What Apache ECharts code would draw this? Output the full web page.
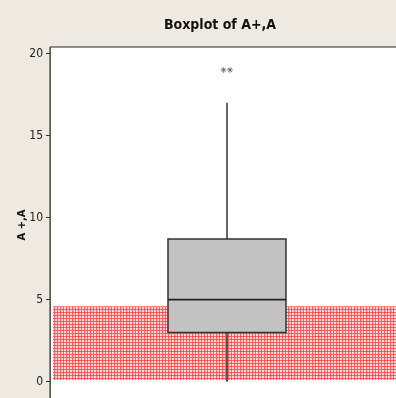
<!DOCTYPE html>
<html>
<head>
<meta charset="utf-8">
<script src="https://cdn.jsdelivr.net/npm/echarts@6/dist/echarts.min.js"></script>
<style>
  html, body { margin: 0; padding: 0; background: #eeeae1; }
  #chart { width: 396px; height: 398px; }
</style>
</head>
<body>
<div id="chart"></div>
<script>
// data
const categories = ["A+,A"]
// [min, Q1, median, Q3, max]
const boxStats = [0, 3, 5, 8.7, 17]
const outliers = [19, 19]
const bandRange = [0.1, 4.6]
const yTicks = [0, 5, 10, 15, 20]

// red crosshatch fill for the band
const pat = document.createElement("canvas")
pat.width = 3
pat.height = 3
const pctx = pat.getContext("2d")
pctx.fillStyle = "rgba(255,190,190,0.6)"
pctx.fillRect(0, 0, 3, 3)
pctx.fillStyle = "rgba(255,60,60,0.75)"
pctx.fillRect(0, 0, 3, 1)
pctx.fillRect(0, 0, 1, 3)

const chartDom = document.getElementById("chart")
const myChart = echarts.init(chartDom)

const asterisk =
  "path://M4.4,0h1.2v3.6l2.6,-2.6l0.8,0.8l-2.6,2.6h3.6v1.2h-3.6l2.6,2.6l-0.8,0.8l-2.6,-2.6v3.6h-1.2v-3.6l-2.6,2.6l-0.8,-0.8l2.6,-2.6h-3.6v-1.2h3.6l-2.6,-2.6l0.8,-0.8l2.6,2.6z"

const narrow = "'DejaVu Sans Condensed', 'Liberation Sans', sans-serif"

const option = {
  animation: false,
  backgroundColor: "#eeeae1",
  title: {
    text: "Boxplot of A+,A",
    left: 215,
    textAlign: "center",
    top: 13,
    textStyle: {
      fontFamily: narrow,
      fontWeight: "bold",
      fontSize: 14,
      color: "#111",
    },
  },
  grid: {
    left: 50,
    top: 47,
    width: 354,
    height: 356,
    outerBoundsMode: "none",
    containLabel: false,
    show: true,
    backgroundColor: "#ffffff",
    borderColor: "#222",
    borderWidth: 1,
  },
  xAxis: [
    {
      type: "category",
      data: categories,
      show: false,
    },
    {
      type: "value",
      min: 0,
      max: 1,
      show: false,
    },
  ],
  yAxis: {
    type: "value",
    min: -1.3,
    max: 20.4,
    name: "A +,A",
    nameLocation: "middle",
    nameGap: 23,
    nameMoveOverlap: false,
    nameTextStyle: {
      fontFamily: "DejaVu Sans",
      fontWeight: "bold",
      fontSize: 10,
      color: "#111",
    },
    axisLine: { show: true, lineStyle: { color: "#555", width: 1 } },
    axisTick: {
      show: true,
      length: 4,
      customValues: yTicks,
      lineStyle: { color: "#333" },
    },
    axisLabel: {
      customValues: yTicks,
      margin: 7,
      fontFamily: narrow,
      fontSize: 12,
      color: "#222",
    },
    splitLine: { show: false },
  },
  series: [
    {
      type: "custom",
      xAxisIndex: 0,
      data: [[0].concat(boxStats)],
      encode: { x: 0, y: [1, 2, 3, 4, 5] },
      renderItem: function (params, api) {
        const x = api.value(0)
        const pMin = api.coord([x, api.value(1)])
        const pQ1 = api.coord([x, api.value(2)])
        const pMed = api.coord([x, api.value(3)])
        const pQ3 = api.coord([x, api.value(4)])
        const pMax = api.coord([x, api.value(5)])
        const half = 59
        const cx = pMin[0]
        const stroke = { stroke: "#333", lineWidth: 1.5 }
        return {
          type: "group",
          children: [
            {
              type: "line",
              shape: { x1: cx, y1: pMin[1], x2: cx, y2: pQ1[1] },
              style: stroke,
            },
            {
              type: "line",
              shape: { x1: cx, y1: pQ3[1], x2: cx, y2: pMax[1] },
              style: stroke,
            },
            {
              type: "rect",
              shape: { x: cx - half, y: pQ3[1], width: half * 2, height: pQ1[1] - pQ3[1] },
              style: { fill: "#c2c2c2", stroke: "#333", lineWidth: 1.5 },
            },
            {
              type: "line",
              shape: { x1: cx - half, y1: pMed[1], x2: cx + half, y2: pMed[1] },
              style: { stroke: "#222", lineWidth: 1.8 },
            },
          ],
        }
      },
      z: 2,
    },
    {
      type: "scatter",
      xAxisIndex: 0,
      symbol: asterisk,
      symbolSize: 6,
      itemStyle: { color: "#444" },
      data: outliers.map(function (v, i) {
        return { value: [0, v], symbolOffset: [i === 0 ? -3.5 : 3, 0] }
      }),
      z: 3,
    },
    {
      type: "line",
      xAxisIndex: 1,
      data: [],
      markArea: {
        silent: true,
        itemStyle: {
          color: { image: pat, repeat: "repeat" },
        },
        data: [
          [
            { xAxis: 0.008, yAxis: bandRange[1] },
            { xAxis: 1, yAxis: bandRange[0] },
          ],
        ],
      },
      z: 5,
    },
  ],
}

option && myChart.setOption(option)
</script>
</body>
</html>
